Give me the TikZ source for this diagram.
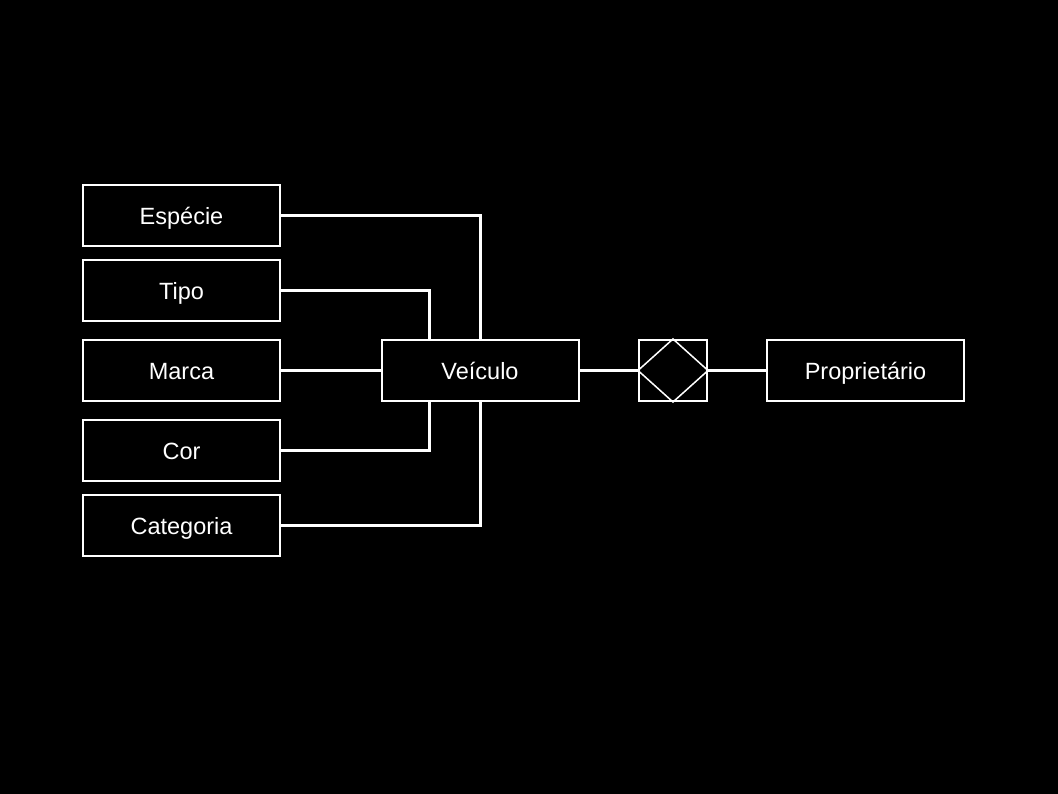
\documentclass[tikz,border=0pt]{standalone}
\usepackage{fontspec}
\setmainfont{Liberation Sans}
\begin{document}
\begin{tikzpicture}[x=1pt,y=-1pt,
  ent/.style={draw=white,line width=2pt,minimum width=197pt,minimum height=61pt,inner sep=0pt,text height=20pt,text depth=2pt,text=white,font=\fontsize{23.5}{28}\selectfont},
  rel/.style={draw=white,line width=2pt,minimum width=68pt,minimum height=61pt,inner sep=0pt},
  conn/.style={draw=white,line width=3pt}]
\fill[black] (0,0) rectangle (1058,794);
\useasboundingbox (0,0) rectangle (1058,794);
\node[ent] (esp) at (181.5,215.5) {Espécie};
\node[ent] (tipo) at (181.5,291) {Tipo};
\node[ent] (marca) at (181.5,370.5) {Marca};
\node[ent] (cor) at (181.5,450) {Cor};
\node[ent] (cat) at (181.5,525.5) {Categoria};
\node[ent] (vei) at (480,370.5) {Veículo};
\node[rel] (r) at (673,370.5) {};
\node[ent] (prop) at (865.5,370.5) {Proprietário};
\draw[white,line width=1.5pt] (r.north) -- (r.east) -- (r.south) -- (r.west) -- cycle;
\coordinate (c1) at (vei.north |- esp.east);
\coordinate (c2) at ([xshift=-51pt]vei.north |- tipo.east);
\coordinate (c3) at ([xshift=-51pt]vei.south |- cor.east);
\coordinate (c4) at (vei.south |- cat.east);
\draw[conn] (esp.east) -- (c1) -- (vei.north);
\draw[conn] (tipo.east) -- (c2) -- (c2 |- vei.north);
\draw[conn] (marca.east) -- (vei.west);
\draw[conn] (cor.east) -- (c3) -- (c3 |- vei.south);
\draw[conn] (cat.east) -- (c4) -- (vei.south);
\draw[conn] (vei.east) -- (r.west);
\draw[conn] (r.east) -- (prop.west);
\end{tikzpicture}
\end{document}
